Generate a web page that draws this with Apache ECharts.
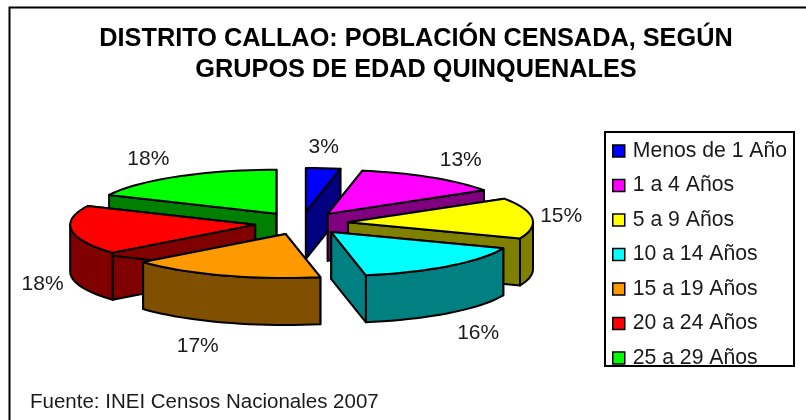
<!DOCTYPE html>
<html><head><meta charset="utf-8">
<style>html,body{margin:0;padding:0;background:#fff}#c{width:806px;height:420px}</style>
<script src="https://cdn.jsdelivr.net/npm/echarts@6/dist/echarts.min.js"></script>
</head><body><div id="c"></div>
<script>
const categories = ['Menos de 1 Año','1 a 4 Años','5 a 9 Años','10 a 14 Años','15 a 19 Años','20 a 24 Años','25 a 29 Años'];
const percents = [3,13,15,16,17,18,18];
const topColors = ['#0000ff','#ff00ff','#ffff00','#00ffff','#ff9900','#ff0000','#00ff00'];
const sideColors = ['#000080','#800080','#808000','#008080','#805000','#800000','#008000'];
const paintOrder = [0,6,1,2,5,4,3];
const font = '"Liberation Sans", Arial, sans-serif';

const geo = {cx:301.5, cy:223.3, rx:185, ry:44, ex:46.7, ey:11.4, h:47};
const total = percents.reduce((a,b)=>a+b,0);
const starts = []; percents.reduce((acc,v,i)=>{starts[i]=acc;return acc+v;},0);
const rad = p => p/total*Math.PI*2;

function sliceGroup(i, dataValue){
  const a0 = rad(starts[i]), a1 = rad(starts[i]+dataValue), mid=(a0+a1)/2;
  const ax = geo.cx+geo.ex*Math.sin(mid), ay = geo.cy-geo.ey*Math.cos(mid);
  const pt = a => [ax+geo.rx*Math.sin(a), ay-geo.ry*Math.cos(a)];
  const arc = (f,t)=>{const n=Math.max(2,Math.ceil((t-f)/0.05));const o=[];for(let k=0;k<=n;k++)o.push(pt(f+(t-f)*k/n));return o;};
  const down = p => [p[0],p[1]+geo.h];
  const z = paintOrder.indexOf(i)*10;
  const style = {stroke:'#000',lineWidth:2,lineJoin:'round'};
  const kids = [];
  const face = (pts,fill,z2)=>kids.push({type:'polygon',z2:z+z2,shape:{points:pts},style:Object.assign({fill},style)});
  const apex=[ax,ay];
  [a0,a1].forEach(a=>{const p=pt(a);face([apex,p,down(p),down(apex)],sideColors[i],1);});
  const wf=Math.max(a0,Math.PI/2), wt=Math.min(a1,Math.PI*1.5);
  if(wt>wf){const r=arc(wf,wt);face(r.concat(r.map(down).reverse()),sideColors[i],2);}
  face([apex].concat(arc(a0,a1)),topColors[i],3);
  const s=Math.sin(mid), c=Math.cos(mid);
  const rim=pt(mid);
  const k=Math.min(1,Math.max(0,(Math.abs(s)-0.09)*3.5));
  const front=mid>Math.PI/2&&mid<Math.PI*1.5;
  const lx=rim[0]+Math.sign(s)*29*k, ly=rim[1]-21*c+(front?geo.h+4:0);
  kids.push({type:'text',z2:200,style:{text:dataValue+'%',x:lx,y:ly,align:'center',verticalAlign:'middle',fill:'#1a1a1a',font:'21px '+font}});
  return {type:'group',children:kids};
}

const series = categories.map((name,i)=>({
  type:'custom', name, coordinateSystem:'none', silent:true, animation:false,
  itemStyle:{color:topColors[i]},
  data:[percents[i]],
  renderItem:(params,api)=>sliceGroup(i,api.value(0))
}));

const chart = echarts.init(document.getElementById('c'),null,{renderer:'canvas'});
chart.setOption({
  animation:false,
  backgroundColor:'#fff',
  graphic:[
    {type:'polyline',z:-1,silent:true,shape:{points:[[9.5,420],[9.5,7.5],[806,7.5]]},style:{fill:null,stroke:'#000',lineWidth:2}},
    {type:'rect',z:-1,silent:true,shape:{x:605,y:132,width:189,height:234},style:{fill:'#fff',stroke:'#000',lineWidth:2}}
  ],
  title:[
    {text:'DISTRITO CALLAO: POBLACIÓN CENSADA, SEGÚN\nGRUPOS DE EDAD QUINQUENALES',left:411,top:19,textAlign:'center',
     textStyle:{fontFamily:font,fontWeight:'bold',fontSize:25.3,lineHeight:31,color:'#000'}},
    {text:'Fuente: INEI Censos Nacionales 2007',left:25,top:387,textStyle:{fontFamily:font,fontWeight:'normal',fontSize:20.5,color:'#1a1a1a'}}
  ],
  legend:{orient:'vertical',left:612,top:140.5,padding:0,itemGap:13.5,itemWidth:12,itemHeight:12,icon:'rect',
    selectedMode:false,
    itemStyle:{borderColor:'#000',borderWidth:1.5},
    data:categories,
    textStyle:{fontFamily:font,fontSize:21.2,color:'#1a1a1a',padding:[0,0,0,3]}},
  series
});
</script></body></html>
